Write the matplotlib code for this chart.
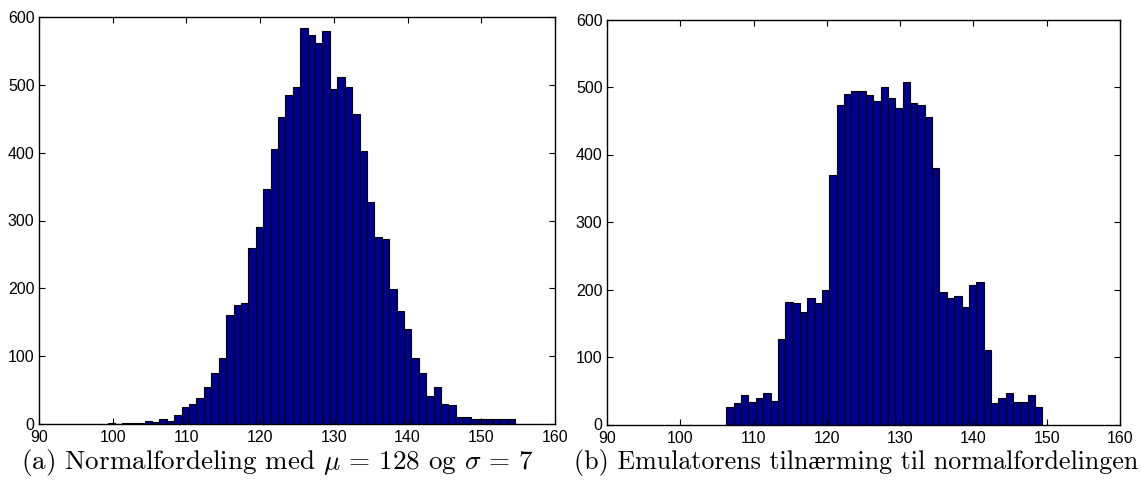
import numpy as np
import matplotlib
matplotlib.use("Agg")
import matplotlib.pyplot as plt

# Histogram counts, one value per bin (left to right)
normal_counts = [2, 0, 1, 1, 1, 5, 3, 7, 5, 14, 25, 29, 38, 54, 75, 98, 161, 176,
                 178, 259, 290, 347, 406, 453, 485, 497, 584, 573, 561, 579, 494,
                 512, 497, 457, 403, 327, 275, 273, 199, 166, 140, 98, 75, 42, 54,
                 29, 28, 11, 11, 7, 8, 8, 8, 8, 8]
normal_range = (99.3, 154.6)

emulator_counts = [26, 32, 44, 33, 40, 47, 35, 127, 182, 180, 167, 187, 180, 200,
                   369, 473, 490, 494, 494, 488, 479, 500, 483, 469, 507, 477, 474,
                   456, 380, 197, 187, 190, 174, 207, 211, 111, 32, 39, 47, 33, 34,
                   44, 26]
emulator_range = (106.3, 149.4)

x_ticks = [90, 100, 110, 120, 130, 140, 150, 160]
y_ticks = [0, 100, 200, 300, 400, 500, 600]

captions = [r"(a) Normalfordeling med $\mu$ = 128 og $\sigma$ = 7",
            "(b) Emulatorens tilnærming til normalfordelingen"]

plt.rcParams["mathtext.fontset"] = "cm"
plt.rcParams["axes.unicode_minus"] = False

BAR_COLOR = "#00008F"
W, H = 1141, 487
fig = plt.figure(figsize=(W / 100, H / 100), dpi=100)


def px_axes(left, right, top, bottom):
    return fig.add_axes([left / W, (H - bottom) / H, (right - left) / W, (bottom - top) / H])


def draw_hist(ax, counts, rng):
    edges = np.linspace(rng[0], rng[1], len(counts) + 1)
    ax.bar(edges[:-1], counts, width=np.diff(edges), align="edge",
           color=BAR_COLOR, edgecolor="black", linewidth=0.8)
    ax.set_xlim(90, 160)
    ax.set_ylim(0, 600)
    ax.set_xticks(x_ticks)
    ax.set_yticks(y_ticks)
    ax.tick_params(direction="in", top=True, right=True, length=4, width=0.8,
                   labelsize=11.5)
    ax.tick_params(axis="x", pad=4.6)
    ax.tick_params(axis="y", pad=3.2)
    for lab in ax.get_xticklabels() + ax.get_yticklabels():
        lab.set_family("Liberation Sans")
    for sp in ax.spines.values():
        sp.set_linewidth(1.0)


ax1 = px_axes(39, 555, 17, 424)
draw_hist(ax1, normal_counts, normal_range)

ax2 = px_axes(607, 1120, 19.5, 424.5)
draw_hist(ax2, emulator_counts, emulator_range)

caption_font = ["cmr10", "Liberation Serif"]
fig.text(278 / W, 1 - 462 / H, captions[0], ha="center", va="center",
         fontsize=19.5, family=caption_font)
fig.text(856 / W, 1 - 462 / H, captions[1], ha="center", va="center",
         fontsize=18.7, family=caption_font)

fig.savefig("out.png", dpi=100)
